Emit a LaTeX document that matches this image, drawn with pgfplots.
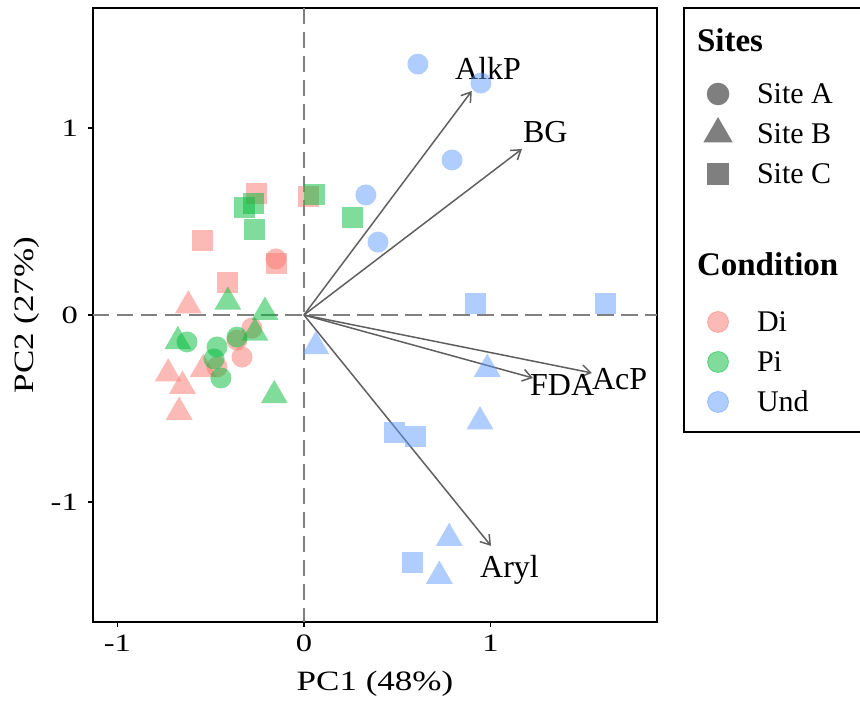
\documentclass[border=0pt]{standalone}
\usepackage{fontspec}
\setmainfont{Liberation Serif}
\newfontfamily\tickfont[FakeStretch=1.3]{Liberation Serif}
\newfontfamily\titlefont[FakeStretch=1.25]{Liberation Serif}
\usepackage{pgfplots}
\pgfplotsset{compat=1.18}
\usetikzlibrary{arrows.meta}

\definecolor{cDi}{HTML}{F8766D}
\definecolor{cPi}{HTML}{00BA38}
\definecolor{cUnd}{HTML}{619CFF}
\definecolor{siteGray}{HTML}{7F7F7F}
\definecolor{refGray}{HTML}{808080}
\definecolor{arrowGray}{HTML}{5F5F5F}

% legend rows: struts fix each row's height around the cap-height centre
\newcommand\lgitem[1]{\rule[-10pt]{0pt}{40pt}#1}
\newcommand\lgtitle[3]{\rule[-#2]{0pt}{#3}\hspace*{-60pt}{\fontsize{33}{40}\selectfont\bfseries #1}\hspace*{30pt}}

\pgfplotsset{
  pt/.style={only marks, forget plot, mark options={fill=#1, fill opacity=0.5, draw opacity=0, line width=0pt}},
  circ/.style={pt=#1, mark=*, mark size=10.5pt},
  tri/.style={pt=#1, mark=triangle*, mark size=15.5pt},
  sq/.style={pt=#1, mark=square*, mark size=10.5pt},
  vec/.style={arrowGray, line width=1.5pt, -{Straight Barb[length=9pt, width=12pt]}, forget plot},
  refline/.style={refGray, line width=2pt, dash pattern=on 16.5pt off 7.5pt, forget plot},
}
\tikzset{vlab/.style={anchor=base west, inner sep=0pt, font=\fontsize{32}{38}\selectfont}}

\begin{document}
\begin{tikzpicture}
\useasboundingbox (-93pt,-84pt) rectangle (767pt,622pt);
\begin{axis}[
  at={(0pt,0pt)}, anchor=south west,
  scale only axis, width=564pt, height=614pt,
  xmin=-1.131, xmax=1.893, ymin=-1.642, ymax=1.642,
  axis line style={line width=1.6pt},
  xtick={-1,0,1}, ytick={-1,0,1},
  xticklabels={-1,0,1}, yticklabels={-1,0,1},
  tick align=outside, tick pos=left,
  major tick length=5pt,
  tick style={line width=1.6pt, black},
  ticklabel style={font=\tickfont\fontsize{25}{30}\selectfont, inner sep=0pt},
  xticklabel style={anchor=north, yshift=-8pt},
  yticklabel style={anchor=east, xshift=-10pt},
  xlabel={PC1 (48\%)}, ylabel={PC2 (27\%)},
  every axis x label/.style={at={(axis description cs:0.5,-0.101)}, anchor=center,
    font=\titlefont\fontsize{28}{34}\selectfont},
  every axis y label/.style={at={(axis description cs:-0.117,0.5)}, anchor=center, rotate=90,
    font=\titlefont\fontsize{28}{34}\selectfont},
  legend image code/.code={\draw[#1] plot coordinates {(0pt,0pt)};},
  legend cell align=left,
  legend style={at={(axis description cs:1.0479,1)}, anchor=north west,
    draw=black, line width=1.5pt, outer sep=0pt,
    inner xsep=20.6pt, inner ysep=0pt, row sep=0pt, column sep=25.6pt,
    nodes={inner sep=0pt, text depth=, text height=},
    font=\fontsize{30}{36}\selectfont},
]
% reference lines through the origin
\addplot[refline] coordinates {(-1.131,0) (1.893,0)};
\addplot[refline] coordinates {(0,1.642) (0,-1.642)};

% Di
\addplot[circ=cDi] coordinates {(-0.150,0.300) (-0.279,-0.070) (-0.359,-0.134) (-0.332,-0.225) (-0.466,-0.278)};
\addplot[tri=cDi] coordinates {(-0.620,0.050) (-0.728,-0.314) (-0.651,-0.380) (-0.540,-0.290) (-0.669,-0.519)};
\addplot[sq=cDi] coordinates {(-0.257,0.652) (0.027,0.636) (-0.542,0.396) (-0.408,0.176) (-0.145,0.273)};
% Pi
\addplot[circ=cPi] coordinates {(-0.627,-0.144) (-0.466,-0.171) (-0.359,-0.118) (-0.482,-0.235) (-0.445,-0.337)};
\addplot[tri=cPi] coordinates {(-0.408,0.070) (-0.209,0.016) (-0.676,-0.141) (-0.263,-0.095) (-0.159,-0.430)};
\addplot[sq=cPi] coordinates {(-0.320,0.574) (-0.270,0.597) (-0.266,0.455) (0.059,0.647) (0.263,0.524)};
% Und
\addplot[circ=cUnd] coordinates {(0.611,1.342) (0.949,1.241) (0.794,0.829) (0.332,0.642) (0.397,0.390)};
\addplot[tri=cUnd] coordinates {(0.064,-0.168) (0.983,-0.289) (0.944,-0.570) (0.779,-1.194) (0.726,-1.396)};
\addplot[sq=cUnd] coordinates {(0.922,0.064) (1.619,0.064) (0.483,-0.626) (0.600,-0.652) (0.584,-1.326)};

% loadings
\addplot[vec] coordinates {(0,0) (0.900,1.198)};
\addplot[vec] coordinates {(0,0) (1.169,0.888)};
\addplot[vec] coordinates {(0,0) (1.228,-0.337)};
\addplot[vec] coordinates {(0,0) (1.544,-0.310)};
\addplot[vec] coordinates {(0,0) (1.003,-1.235)};
\node[vlab] at (axis cs:0.810,1.257) {AlkP};
\node[vlab] at (axis cs:1.174,0.921) {BG};
\node[vlab] at (axis cs:1.212,-0.428) {FDA};
\node[vlab] at (axis cs:1.544,-0.401) {AcP};
\node[vlab] at (axis cs:0.944,-1.406) {Aryl};

% legend
\addlegendimage{empty legend}
\addlegendentry{\lgtitle{Sites}{22pt}{66pt}}
\addlegendimage{only marks, mark=*, mark size=10.5pt, siteGray, mark options={fill=siteGray, draw=siteGray}}
\addlegendentry{\lgitem{Site A}}
\addlegendimage{only marks, mark=triangle*, mark size=15.5pt, siteGray, mark options={fill=siteGray, draw=siteGray}}
\addlegendentry{\lgitem{Site B}}
\addlegendimage{only marks, mark=square*, mark size=10.5pt, siteGray, mark options={fill=siteGray, draw=siteGray}}
\addlegendentry{\lgitem{Site C}}
\addlegendimage{empty legend}
\addlegendentry{\rule{0pt}{34pt}}
\addlegendimage{empty legend}
\addlegendentry{\lgtitle{Condition}{26pt}{74pt}}
\addlegendimage{only marks, mark=*, mark size=10.5pt, cDi, mark options={fill=cDi, fill opacity=0.5, draw opacity=0.5, line width=0.8pt}}
\addlegendentry{\lgitem{Di}}
\addlegendimage{only marks, mark=*, mark size=10.5pt, cPi, mark options={fill=cPi, fill opacity=0.5, draw opacity=0.5, line width=0.8pt}}
\addlegendentry{\lgitem{Pi}}
\addlegendimage{only marks, mark=*, mark size=10.5pt, cUnd, mark options={fill=cUnd, fill opacity=0.5, draw opacity=0.5, line width=0.8pt}}
\addlegendentry{\lgitem{Und}}
\addlegendimage{empty legend}
\addlegendentry{\rule{0pt}{10pt}}
\end{axis}
\end{tikzpicture}
\end{document}
